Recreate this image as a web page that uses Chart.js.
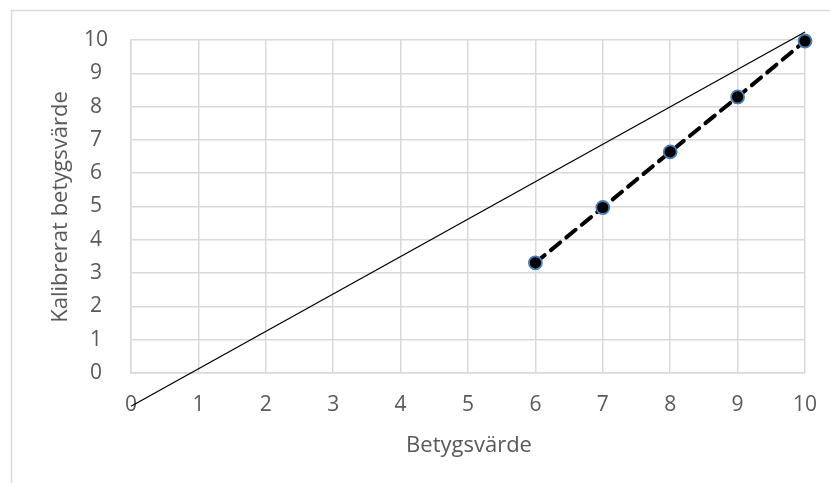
<!DOCTYPE html>
<html>
<head>
<meta charset="utf-8">
<script src="https://cdn.jsdelivr.net/npm/chart.js@4/dist/chart.umd.min.js"></script>
<style>
  html, body { margin: 0; padding: 0; background: #fff; }
  #wrap { width: 830px; height: 483px; }
</style>
</head>
<body>
<div id="wrap"><canvas id="chart" width="830" height="483"></canvas></div>
<script>
// data
const betyg = [6, 7, 8, 9, 10];
const kalibrerat = [3.31, 4.97, 6.64, 8.29, 9.97];
const refX = [0, 10];
const refY = [-1, 10.24];
const xTitle = "Betygsvärde";
const yTitle = "Kalibrerat betygsvärde";

const FONT = "'Open Sans', 'Noto Sans', sans-serif";
const TEXT = "#595959";
const GRID = "#d9d9d9";

// outer frame and axis titles
const decor = {
    id: "decor",
    beforeDraw(chart) {
        const ctx = chart.ctx;
        ctx.save();
        ctx.strokeStyle = GRID;
        ctx.lineWidth = 1.5;
        ctx.beginPath();
        ctx.moveTo(11.5, 483);
        ctx.lineTo(11.5, 10.5);
        ctx.lineTo(830, 10.5);
        ctx.stroke();
        ctx.restore();
    },
    afterDraw(chart) {
        const ctx = chart.ctx;
        ctx.save();
        ctx.fillStyle = TEXT;
        ctx.font = "22px " + FONT;
        ctx.textAlign = "center";
        ctx.textBaseline = "middle";
        ctx.fillText(xTitle, 469, 446);
        ctx.translate(61, 207);
        ctx.rotate(-Math.PI / 2);
        ctx.fillText(yTitle, 0, 0);
        ctx.restore();
    }
};

new Chart(document.getElementById("chart"), {
    type: "scatter",
    data: {
        datasets: [{
            label: "ref",
            data: refX.map((x, i) => ({ x: x, y: refY[i] })),
            showLine: true,
            borderColor: "#000",
            borderWidth: 1.3,
            pointRadius: 0,
            clip: false
        }, {
            label: "kalibrerat",
            data: betyg.map((x, i) => ({ x: x, y: kalibrerat[i] })),
            showLine: true,
            borderColor: "#000",
            borderWidth: 4,
            borderDash: [12, 8],
            borderCapStyle: "round",
            pointRadius: 6.5,
            pointBorderWidth: 1.8,
            pointBackgroundColor: "#000",
            pointBorderColor: "#4a7ebb",
            clip: false
        }]
    },
    options: {
        responsive: false,
        animation: false,
        devicePixelRatio: 1,
        layout: { padding: { left: 0, top: 40, right: 25, bottom: 0 } },
        plugins: {
            legend: { display: false },
            tooltip: { enabled: false }
        },
        scales: {
            x: {
                type: "linear",
                min: 0,
                max: 10,
                afterFit: s => { s.height = 110; s.paddingLeft = 0; s.paddingRight = 0; },
                ticks: { stepSize: 1, padding: 19, color: TEXT, font: { family: FONT, size: 21 } },
                grid: { color: GRID, lineWidth: 1.5, drawTicks: false },
                border: { color: GRID, width: 1.5 }
            },
            y: {
                type: "linear",
                min: 0,
                max: 10,
                afterFit: s => { s.width = 131; },
                ticks: { stepSize: 1, padding: 23, crossAlign: "center", color: TEXT, font: { family: FONT, size: 21 } },
                grid: { color: GRID, lineWidth: 1.5, drawTicks: false },
                border: { color: GRID, width: 1.5 }
            }
        }
    },
    plugins: [decor]
});
</script>
</body>
</html>
